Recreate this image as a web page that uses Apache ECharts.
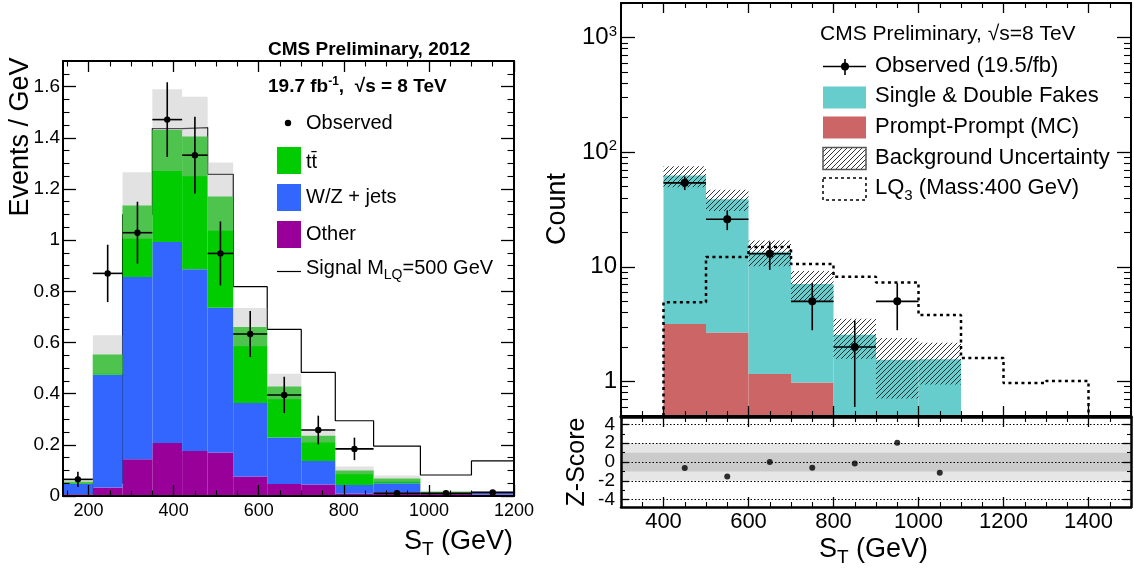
<!DOCTYPE html>
<html><head><meta charset="utf-8">
<script src="https://cdn.jsdelivr.net/npm/echarts@6/dist/echarts.min.js"></script>
<style>html,body{margin:0;padding:0;background:#fff}#c{width:1134px;height:572px}</style>
</head><body><div id="c"></div>
<script>
// ================= LEFT PANEL DATA =================
const leftEdges   = [140,210,280,350,420,480,540,620,700,780,870,980,1100,1200];
const leftOther   = [0.007,0.033,0.144,0.207,0.176,0.170,0.076,0.047,0.045,0.010,0.015,0.008,0.006];
const leftWZ      = [0.040,0.441,0.712,0.786,0.710,0.566,0.287,0.182,0.092,0.033,0.035,0.002,0.006];
const leftTT      = [0.009,0.079,0.279,0.437,0.519,0.434,0.297,0.199,0.098,0.057,0.018,0.007,0.003];
const leftUnc     = [0.008,0.075,0.130,0.160,0.155,0.133,0.075,0.050,0.026,0.015,0.012,0.004,0.004];
const leftSignal  = [0.010,0.050,1.100,1.436,1.440,1.257,0.818,0.651,0.483,0.294,0.195,0.082,0.137];
const leftObs     = [0.065,0.870,1.029,1.471,1.332,0.948,0.633,0.395,0.258,0.184,0.011,0.011,0.014];
const leftObsErr  = [0.030,0.112,0.121,0.146,0.150,0.125,0.090,0.071,0.056,0.044,0.010,0.008,0.008];
const leftXTicks  = [200,400,600,800,1000,1200];
const leftXMinor  = [150,250,300,350,450,500,550,650,700,750,850,900,950,1050,1100,1150];
const leftYTicks  = [0,0.2,0.4,0.6,0.8,1.0,1.2,1.4,1.6];
const leftYMinor  = [0.05,0.1,0.15,0.25,0.3,0.35,0.45,0.5,0.55,0.65,0.7,0.75,0.85,0.9,0.95,1.05,1.1,1.15,1.25,1.3,1.35,1.45,1.5,1.55,1.65];

// ================= RIGHT PANEL DATA =================
const rightEdges  = [400,500,600,700,800,900,1000,1100];
const rightPrompt = [3.18,2.67,1.16,0.98,0,0,0];
const rightFakes  = [59.3,36.2,12.4,6.1,2.55,1.55,1.56];
const rightUnc    = [13.0,8.2,3.45,2.1,0.97,0.84,0.62];
const rightObs    = [54,26,13,5,2,5,0];
const rightObsErr = [7.3,5.1,3.6,2.2,1.4,2.2,0];
const lqEdges     = [400,500,600,700,800,900,1000,1100,1200,1300,1400];
const lqSignal    = [4.9,12.2,14.9,10.6,8.2,7.3,3.8,1.6,0.97,1.01];
const zScore      = [-0.65,-1.55,0.0,-0.6,-0.15,2.05,-1.15];
const rightXTicks = [400,600,800,1000,1200,1400];
const rightXMinor = [300,350,450,500,550,650,700,750,850,900,950,1050,1100,1150,1250,1300,1350,1450,1500];
const rightYTicks = [1,10,100,1000];
const rightYMinor = [0.6,0.7,0.8,0.9,2,3,4,5,6,7,8,9,20,30,40,50,60,70,80,90,200,300,400,500,600,700,800,900,2000];
const zTicks      = [-4,-2,0,2,4];
const zLabelsA    = [-4,0,4];
const zLabelsB    = [-2,2];
const zMinor      = [-3,-1,1,3];
const zBands      = [2,1];

// ================= STYLE =================
const FONT = "'Liberation Sans', Arial, Helvetica, sans-serif";
const C_TT = '#00cc00', C_WZ = '#3366ff', C_OTHER = '#990099';
const C_FAKE = '#66cccc', C_PROMPT = '#cc6666';
const Y_LOG_MIN = 0.5, Y_LOG_MAX = 2000;

function makeHatch(color, bg) {
  const s = 5;
  const c = document.createElement('canvas'); c.width = s; c.height = s;
  const g = c.getContext('2d');
  if (bg) { g.fillStyle = bg; g.fillRect(0, 0, s, s); }
  g.strokeStyle = color; g.lineWidth = 1;
  g.beginPath();
  g.moveTo(-1, s + 1); g.lineTo(s + 1, -1);
  g.moveTo(-1, 1); g.lineTo(1, -1);
  g.moveTo(s - 1, s + 1); g.lineTo(s + 1, s - 1);
  g.stroke();
  return c;
}
const hatchCanvas = makeHatch('rgba(20,20,20,0.85)');
const hatchFill = { type: 'pattern', image: hatchCanvas, repeat: 'repeat' };

// ---------- axis helpers ----------
function mkAxes(grid, pos, base, majorVals, minorVals, majLen, minLen, label, lineW) {
  const common = Object.assign({ gridIndex: grid, position: pos, z: 10,
    splitLine: { show: false }, axisPointer: { show: false } }, base);
  const major = Object.assign({}, common, {
    axisLine: { show: true, onZero: false, lineStyle: { color: '#000', width: lineW } },
    axisTick: { show: true, inside: true, length: majLen, customValues: majorVals, lineStyle: { color: '#000', width: 1.3 } },
    axisLabel: label ? Object.assign({ show: true, customValues: majorVals, color: '#000', fontFamily: FONT,
      showMinLabel: true, showMaxLabel: true, hideOverlap: false }, label) : { show: false }
  });
  const minor = Object.assign({}, common, {
    axisLine: { show: false, onZero: false },
    axisTick: { show: true, inside: true, length: minLen, customValues: minorVals, lineStyle: { color: '#000', width: 1.1 } },
    axisLabel: { show: false }
  });
  return [major, minor];
}

const xL = { type: 'value', min: leftEdges[0], max: leftEdges[leftEdges.length - 1] };
const yL = { type: 'value', min: 0, max: 1.7 };
const xR = { type: 'value', min: 300, max: 1500 };
const yR = { type: 'log', logBase: 10, min: Y_LOG_MIN, max: Y_LOG_MAX };
const yZ = { type: 'value', min: -4.8, max: 4.8 };
const plain = v => String(Math.round(v * 10) / 10);

const xAxes = [].concat(
  mkAxes(0, 'bottom', xL, leftXTicks, leftXMinor, 11, 5.5, { fontSize: 18, margin: 6, formatter: plain }, 2),   // 0,1
  mkAxes(0, 'top', xL, leftXTicks, leftXMinor, 11, 5.5, null, 2),                             // 2,3
  mkAxes(1, 'bottom', xR, rightXTicks, rightXMinor, 10, 5, null, 3),                          // 4,5
  mkAxes(1, 'top', xR, rightXTicks, rightXMinor, 10, 5, null, 2),                             // 6,7
  mkAxes(2, 'bottom', xR, rightXTicks, rightXMinor, 10, 5, { fontSize: 22, margin: 4, formatter: plain }, 2.5), // 8,9
  mkAxes(2, 'top', xR, rightXTicks, rightXMinor, 10, 5, null, 2.5)                            // 10,11
);
const yAxes = [].concat(
  mkAxes(0, 'left', yL, leftYTicks, leftYMinor, 13, 6.5, { fontSize: 19, margin: 3, formatter: plain }, 2), // 0,1
  mkAxes(0, 'right', yL, leftYTicks, leftYMinor, 13, 6.5, null, 2),                           // 2,3
  mkAxes(1, 'left', yR, rightYTicks, rightYMinor, 14, 7, { fontSize: 24, margin: 4,
    formatter: v => { const e = Math.round(Math.log10(v)); return e <= 1 ? String(Math.round(v)) : '10{sup|' + e + '}'; },
    rich: { sup: { fontSize: 15, fontFamily: FONT, color: '#000', padding: [0, 0, 12, 0] } } }, 2),   // 4,5
  mkAxes(1, 'right', yR, rightYTicks, rightYMinor, 14, 7, null, 2),                           // 6,7
  mkAxes(2, 'left', yZ, zTicks, zMinor, 8, 4, { fontSize: 19, margin: 6, customValues: zLabelsA, formatter: plain }, 2.5), // 8,9
  mkAxes(2, 'right', yZ, zTicks, zMinor, 8, 4, null, 2.5),                                    // 10,11
  [Object.assign({ gridIndex: 2, position: 'left', z: 10, splitLine: { show: false }, axisPointer: { show: false },
    axisLine: { show: false, onZero: false }, axisTick: { show: false },
    axisLabel: { show: true, customValues: zLabelsB, color: '#000', fontFamily: FONT, fontSize: 19, margin: 6,
      showMinLabel: true, showMaxLabel: true, hideOverlap: false, formatter: plain } }, yZ)]     // 12
);

// ---------- derived mark data ----------
const leftRects = { other: [], wz: [], tt: [], unc: [] };
for (let i = 0; i < leftOther.length; i++) {
  const x0 = leftEdges[i], x1 = leftEdges[i + 1];
  const a = leftOther[i], b = a + leftWZ[i], t = b + leftTT[i];
  leftRects.other.push([x0, x1, 0, a]);
  leftRects.wz.push([x0, x1, a, b]);
  leftRects.tt.push([x0, x1, b, t]);
  leftRects.unc.push([x0, x1, t - leftUnc[i], t + leftUnc[i]]);
}
const leftObsData = leftObs.map((v, i) => [(leftEdges[i] + leftEdges[i + 1]) / 2, v,
  leftEdges[i], leftEdges[i + 1], v - leftObsErr[i], v + leftObsErr[i]]);
const leftSignalPts = [[leftEdges[0], 0]];
leftSignal.forEach((v, i) => leftSignalPts.push([leftEdges[i], v]));
leftSignalPts.push([leftEdges[leftEdges.length - 1], leftSignal[leftSignal.length - 1]]);

const rightRects = { prompt: [], fakes: [], unc: [] };
for (let i = 0; i < rightPrompt.length; i++) {
  const x0 = rightEdges[i], x1 = rightEdges[i + 1];
  const p = rightPrompt[i], t = p + rightFakes[i];
  if (p > 0) rightRects.prompt.push([x0, x1, Y_LOG_MIN, p]);
  rightRects.fakes.push([x0, x1, Math.max(p, Y_LOG_MIN), t]);
  rightRects.unc.push([x0, x1, Math.max(t - rightUnc[i], Y_LOG_MIN), t + rightUnc[i]]);
}
const rightObsData = [];
rightObs.forEach((v, i) => { if (v > 0) rightObsData.push([(rightEdges[i] + rightEdges[i + 1]) / 2, v,
  rightEdges[i], rightEdges[i + 1], v - rightObsErr[i], v + rightObsErr[i]]); });
const lqPts = [[lqEdges[0], Y_LOG_MIN]];
lqSignal.forEach((v, i) => lqPts.push([lqEdges[i], v]));
lqPts.push([lqEdges[lqEdges.length - 1], lqSignal[lqSignal.length - 1]]);
lqPts.push([lqEdges[lqEdges.length - 1], Y_LOG_MIN]);
const zData = zScore.map((v, i) => [(rightEdges[i] + rightEdges[i + 1]) / 2, v]);

// ---------- renderers ----------
function rectSeries(name, data, xi, yi, fill, z, stroke) {
  return {
    type: 'custom', name, xAxisIndex: xi, yAxisIndex: yi, z, silent: true,
    data, encode: { x: [0, 1], y: [2, 3] },
    renderItem: (p, api) => {
      const a = api.coord([api.value(0), api.value(3)]);
      const b = api.coord([api.value(1), api.value(2)]);
      return { type: 'rect', shape: { x: a[0], y: a[1], width: b[0] - a[0], height: b[1] - a[1] },
        style: { fill, stroke: stroke || null } };
    }
  };
}
function errSeries(name, data, xi, yi, r, lw, z) {
  return {
    type: 'custom', name, xAxisIndex: xi, yAxisIndex: yi, z, silent: true,
    data, encode: { x: 0, y: 1 },
    renderItem: (p, api) => {
      const c = api.coord([api.value(0), api.value(1)]);
      const l = api.coord([api.value(2), api.value(1)]);
      const rr = api.coord([api.value(3), api.value(1)]);
      const lo = api.coord([api.value(0), api.value(4)]);
      const hi = api.coord([api.value(0), api.value(5)]);
      const st = { stroke: '#000', lineWidth: lw };
      return { type: 'group', children: [
        { type: 'line', shape: { x1: l[0], y1: c[1], x2: rr[0], y2: c[1] }, style: st },
        { type: 'line', shape: { x1: c[0], y1: lo[1], x2: c[0], y2: hi[1] }, style: st },
        { type: 'circle', shape: { cx: c[0], cy: c[1], r }, style: { fill: '#000' } }
      ] };
    }
  };
}

const series = [
  // left
  { type: 'line', name: 'Signal', xAxisIndex: 0, yAxisIndex: 0, z: 1, step: 'end', symbol: 'none', silent: true,
    data: leftSignalPts, lineStyle: { color: '#000', width: 1.2 } },
  rectSeries('Other', leftRects.other, 0, 0, C_OTHER, 2),
  rectSeries('W/Z + jets', leftRects.wz, 0, 0, C_WZ, 2),
  rectSeries('tt', leftRects.tt, 0, 0, C_TT, 2),
  rectSeries('Uncertainty', leftRects.unc, 0, 0, 'rgba(185,185,185,0.42)', 3),
  errSeries('Observed', leftObsData, 0, 0, 3.2, 1.6, 5),
  // right top
  rectSeries('Prompt-Prompt (MC)', rightRects.prompt, 4, 4, C_PROMPT, 2),
  rectSeries('Single & Double Fakes', rightRects.fakes, 4, 4, C_FAKE, 2),
  rectSeries('Background Uncertainty', rightRects.unc, 4, 4, hatchFill, 3),
  { type: 'line', name: 'LQ3', xAxisIndex: 4, yAxisIndex: 4, z: 4, step: 'end', symbol: 'none', silent: true,
    data: lqPts, lineStyle: { color: '#000', width: 2.5, type: [3, 3.5] } },
  errSeries('Observed (19.5/fb)', rightObsData, 4, 4, 4, 1.6, 5),
  // z-score
  rectSeries('band2', [[300, 1500, -zBands[0], zBands[0]]], 8, 8, '#e6e6e6', 1),
  rectSeries('band1', [[300, 1500, -zBands[1], zBands[1]]], 8, 8, '#cbcbcb', 1),
  { type: 'scatter', name: 'Z-Score', xAxisIndex: 8, yAxisIndex: 8, z: 5, silent: true,
    symbolSize: 6, itemStyle: { color: '#000' }, data: zData,
    markLine: { silent: true, symbol: 'none', label: { show: false }, z: 2,
      lineStyle: { color: '#000', type: [1.5, 2], width: 1 },
      data: zTicks.map(v => ({ yAxis: v })) } }
];

// ---------- text / legends ----------
function txt(x, y, text, size, opts) {
  return Object.assign({ type: 'text', x, y, z: 100, silent: true,
    style: Object.assign({ text, fontSize: size, fontFamily: FONT, fill: '#000',
      align: 'left', verticalAlign: 'middle', textAlign: 'left', textVerticalAlign: 'middle' }, (opts && opts.style) || {}) },
    (opts && opts.el) || {});
}
const subRich = (fs, pad) => ({ sub: { fontSize: fs, fontFamily: FONT, fill: '#000', padding: [pad, 0, 0, 0] },
                                 sup: { fontSize: fs, fontFamily: FONT, fill: '#000', padding: [0, 0, pad, 0] } });
const box = (x, y, w, h, fill, stroke, dash) => ({ type: 'rect', z: 100, silent: true,
  shape: { x, y, width: w, height: h }, style: { fill, stroke: stroke || null, lineWidth: stroke ? 1.5 : 0, lineDash: dash || null } });

const graphic = [
  // left panel
  txt(268, 50, 'CMS Preliminary, 2012', 19, { style: { fontWeight: 'bold' } }),
  txt(268, 87, '19.7 fb{sup|-1},  √s = 8 TeV', 19, { style: { fontWeight: 'bold',
    rich: { sup: { fontSize: 12, fontWeight: 'bold', fontFamily: FONT, fill: '#000', padding: [0, 0, 10, 0] } } } }),
  { type: 'circle', z: 100, silent: true, shape: { cx: 288, cy: 123, r: 3.2 }, style: { fill: '#000' } },
  txt(306, 123, 'Observed', 20),
  box(277, 147, 24, 27, C_TT),
  txt(306, 162, 'tt\u0304', 20),
  box(277, 184, 24, 27, C_WZ),
  txt(306, 197, 'W/Z + jets', 20),
  box(277, 221, 24, 27, C_OTHER),
  txt(306, 234, 'Other', 20),
  { type: 'line', z: 100, silent: true, shape: { x1: 277, y1: 271.5, x2: 301, y2: 271.5 }, style: { stroke: '#000', lineWidth: 1.2 } },
  txt(306, 268, 'Signal M{sub|LQ}=500 GeV', 20, { style: { rich: subRich(14, 14) } }),
  txt(21, 137, 'Events / GeV', 27, { style: { align: 'center', textAlign: 'center' }, el: { rotation: Math.PI / 2 } }),
  txt(513, 542, 'S{sub|T} (GeV)', 27, { style: { align: 'right', textAlign: 'right', rich: subRich(19, 16) } }),
  // right panel
  txt(820, 34, 'CMS Preliminary, √s=8 TeV', 21),
  { type: 'line', z: 100, silent: true, shape: { x1: 823, y1: 66.5, x2: 866, y2: 66.5 }, style: { stroke: '#000', lineWidth: 1.6 } },
  { type: 'line', z: 100, silent: true, shape: { x1: 845, y1: 59, x2: 845, y2: 75 }, style: { stroke: '#000', lineWidth: 1.6 } },
  { type: 'circle', z: 100, silent: true, shape: { cx: 845, cy: 66.5, r: 4 }, style: { fill: '#000' } },
  txt(875, 66, 'Observed (19.5/fb)', 22),
  box(823, 86.5, 43, 22, C_FAKE),
  txt(875, 96, 'Single & Double Fakes', 22),
  box(823, 116.5, 43, 22, C_PROMPT),
  txt(875, 127, 'Prompt-Prompt (MC)', 22),
  box(823, 147.5, 43, 22, hatchFill, '#555'),
  txt(875, 158, 'Background Uncertainty', 22),
  box(823, 178, 43, 22, null, '#000', [3, 3]),
  txt(875, 188, 'LQ{sub|3} (Mass:400 GeV)', 22, { style: { rich: subRich(15, 16) } }),
  txt(558, 209, 'Count', 27, { style: { align: 'center', textAlign: 'center' }, el: { rotation: Math.PI / 2 } }),
  txt(577, 462, 'Z-Score', 25, { style: { align: 'center', textAlign: 'center' }, el: { rotation: Math.PI / 2 } }),
  txt(928, 550, 'S{sub|T} (GeV)', 27, { style: { align: 'right', textAlign: 'right', rich: subRich(19, 16) } })
];

const chart = echarts.init(document.getElementById('c'), null, { renderer: 'canvas' });
chart.setOption({
  animation: false,
  backgroundColor: '#fff',
  textStyle: { fontFamily: FONT },
  grid: [
    { left: 63, top: 61, width: 451, height: 435 },
    { left: 621, top: 3, width: 510, height: 413 },
    { left: 621, top: 417, width: 510, height: 90 }
  ],
  xAxis: xAxes,
  yAxis: yAxes,
  series,
  graphic
});
</script>
</body></html>
